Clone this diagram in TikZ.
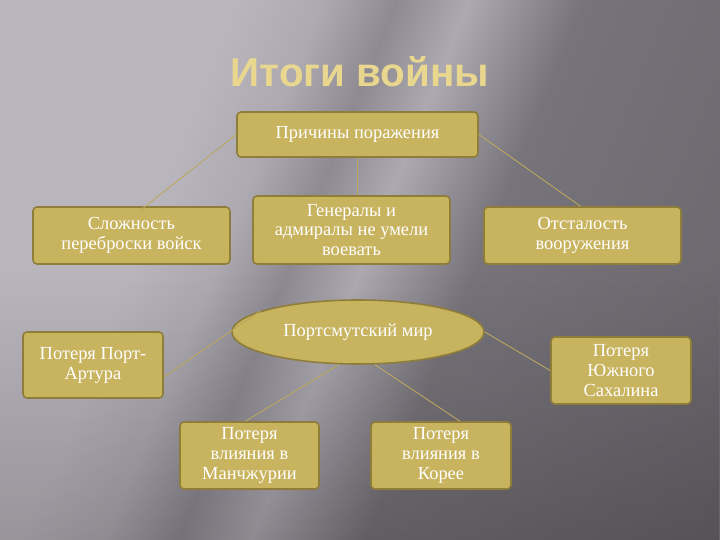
\documentclass[tikz,border=0pt]{standalone}
\usepackage{fontspec}
\setmainfont{Liberation Serif}
\newfontfamily\titlefont{Liberation Sans}
\usetikzlibrary{shapes.geometric,fadings}
\definecolor{boxfill}{HTML}{C8B35F}
\definecolor{boxedge}{HTML}{8F7D3A}
\definecolor{linkcol}{HTML}{B9A85E}
\definecolor{titlecol}{HTML}{E9D68F}
\definecolor{bgA}{HTML}{B9B5BD}
\definecolor{bgB}{HTML}{ADA9B1}
\definecolor{bgC}{HTML}{8E8A92}
\definecolor{bgD}{HTML}{77737A}
\definecolor{bgE}{HTML}{5E5B61}
\pgfdeclarehorizontalshading{bgsh}{100bp}{color(0bp)=(bgA); color(34bp)=(bgA); color(40bp)=(bgB); color(45bp)=(bgC); color(50bp)=(bgB); color(58bp)=(bgD); color(100bp)=(bgE)}
\tikzset{
  gbox/.style={draw=boxedge, line width=1.6bp, fill=boxfill, rounded corners=4bp,
    text=white, align=center, font=\fontsize{18.5}{20}\selectfont, inner sep=1bp},
  gell/.style={ellipse, draw=boxedge, line width=1.6bp, fill=boxfill,
    text=white, font=\fontsize{18.5}{20}\selectfont, inner sep=0pt},
  link/.style={draw=linkcol, line width=0.9bp}
}
\begin{document}
\begin{tikzpicture}[x=1bp,y=-1bp]
\useasboundingbox (0,0) rectangle (720,540);
% background
\shade[shading=bgsh, shading angle=-22] (0,0) rectangle (720,540);
\fill[black, opacity=0.18, path fading=north] (0,270) rectangle (720,540);

% title
\node[font=\titlefont\bfseries\fontsize{40.5}{46}\selectfont, text=titlecol] (title) at (360,72) {Итоги войны};

% top group
\node[gbox, minimum width=241bp, minimum height=45bp] (p) at (357.5,134.5) {Причины поражения};
\node[gbox, minimum width=197bp, minimum height=57bp] (s) at (131.5,235.5) {Сложность\\переброски войск};
\node[gbox, minimum width=197bp, minimum height=68bp] (g) at (351.5,230) {Генералы и\\адмиралы не умели\\воевать};
\node[gbox, minimum width=197bp, minimum height=57bp] (o) at (582.5,235.5) {Отсталость\\вооружения};

\draw[link] (p.west) -- ([xshift=9bp,yshift=-4bp]s.north);
\draw[link] (p.south) -- (p.south |- g.north);
\draw[link] (p.east) -- ([xshift=-2bp]o.north);

% bottom group
\node[gell, minimum width=252bp, minimum height=64bp] (e) at (358,332) {Портсмутский мир};
\node[gbox, minimum width=140bp, minimum height=66bp] (pa) at (93,365) {Потеря Порт-\\Артура};
\node[gbox, minimum width=140bp, minimum height=67bp] (sa) at (621,370.5) {Потеря\\Южного\\Сахалина};
\node[gbox, minimum width=139bp, minimum height=67bp] (m) at (249.5,455.5) {Потеря\\влияния в\\Манчжурии};
\node[gbox, minimum width=140bp, minimum height=67bp] (k) at (441,455.5) {Потеря\\влияния в\\Корее};

\draw[link] (e.168) -- ([yshift=-12bp]pa.east);
\draw[link] (e.240) -- ([xshift=-4bp]m.north);
\draw[link] (e.297) -- ([xshift=19bp]k.north);
\draw[link] (e.east) -- (sa.west);
\end{tikzpicture}
\end{document}
